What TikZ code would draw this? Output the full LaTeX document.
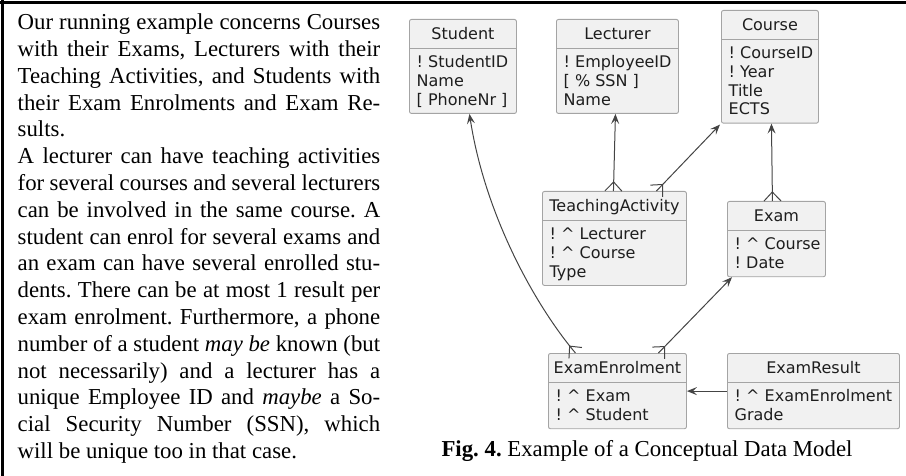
\documentclass[tikz,border=0pt]{standalone}
\usepackage{fontspec}
\setmainfont{Liberation Serif}
\newfontfamily\umlfont{DejaVu Sans}
\usetikzlibrary{arrows.meta,calc}
\frenchspacing

\definecolor{erfill}{HTML}{F1F1F1}
\definecolor{erborder}{HTML}{A4A4A4}
\definecolor{erlink}{HTML}{444444}
\definecolor{ertext}{HTML}{1E1E1E}

\tikzset{
  erframe/.style={draw=erborder, fill=erfill, rounded corners=2pt, line width=0.9pt, inner sep=0pt},
  erline/.style={draw=erborder, line width=0.9pt},
  ertitle/.style={font=\umlfont\fontsize{16}{18.7}\selectfont, text=ertext, inner sep=0pt},
  erbody/.style={font=\umlfont\fontsize{16}{18.7}\selectfont, text=ertext, inner sep=0pt},
  link/.style={draw=erlink, line width=1pt},
  tip/.style={-{Stealth[length=10pt,width=8pt,inset=4pt]}},
  frameline/.style={draw=black, line width=2.4pt},
}

% entity box: name, left, top, width, height, title, attribute lines
\newcommand\erbox[7]{%
  \node[erframe, minimum width=#4pt, minimum height=#5pt, anchor=north west] (#1) at (#2,#3) {};
  \draw[erline] ([yshift=-29.5pt]#1.north west) -- ([yshift=-29.5pt]#1.north east);
  \node[ertitle, anchor=base] (#1-title) at ([yshift=-20.3pt]#1.north) {#6};
  \node[erbody, anchor=base west] (#1-body) at ([xshift=7.5pt,yshift=-48.8pt]#1.north west)
    {\parbox[t]{200pt}{#7}};
}

% crow's foot at point #1, opening towards the box, line leaving towards #2
\newcommand\crowfoot[2]{%
  \draw[link] ($(#1)!9pt!(#2)$) -- ($(#1)!8.5pt!90:(#2)$);
  \draw[link] ($(#1)!9pt!(#2)$) -- ($(#1)!8.5pt!-90:(#2)$);
}

\begin{document}
\begin{tikzpicture}[x=1pt, y=-1pt]
\useasboundingbox (0,0) rectangle (906,476);

% page frame
\draw[frameline] (0,2.6) -- (906,2.6);
\draw[frameline] (2.6,0) -- (2.6,476);

% running text
\node[anchor=north west, inner sep=0pt, text width=362.5pt, align=justify,
      font=\fontsize{22.8}{26.8}\selectfont] (story) at (17.5,13.7)
{\tolerance=9999\emergencystretch=0pt
Our running example concerns Courses\linebreak
with their Exams, Lecturers with their\linebreak
Teaching Activities, and Students with\linebreak
their Exam Enrolments and Exam Re-\linebreak
sults.\par
A lecturer can have teaching activities\linebreak
for several courses and several lecturers\linebreak
can be involved in the same course. A\linebreak
student can enrol for several exams and\linebreak
an exam can have several enrolled stu-\linebreak
dents. There can be at most 1 result per\linebreak
exam enrolment. Furthermore, a phone\linebreak
number of a student \emph{may be} known (but\linebreak
not necessarily) and a lecturer has a\linebreak
unique Employee ID and \emph{maybe} a So-\linebreak
cial Security Number (SSN), which\linebreak
will be unique too in that case.\par};

% entities
\erbox{student}{409}{19}{107}{94}{Student}{! StudentID\\Name\\{[} PhoneNr ]}
\erbox{lecturer}{556}{19}{122}{94}{Lecturer}{! EmployeeID\\{[} \% SSN ]\\Name}
\erbox{course}{721}{10}{97}{112.7}{Course}{! CourseID\\! Year\\Title\\ECTS}
\erbox{teaching}{542}{191}{144}{94}{TeachingActivity}{! \textasciicircum\ Lecturer\\! \textasciicircum\ Course\\Type}
\erbox{exam}{727}{201}{98}{75.3}{Exam}{! \textasciicircum\ Course\\! Date}
\erbox{enrol}{548}{353}{138}{75.3}{ExamEnrolment}{! \textasciicircum\ Exam\\! \textasciicircum\ Student}
\erbox{result}{727}{353}{172}{75.3}{ExamResult}{! \textasciicircum\ ExamEnrolment\\Grade}

% connector end points
\coordinate (enrolStu) at ([xshift=-42pt]enrol.north);
\coordinate (stuIn) at ([xshift=6.5pt]student.south);
\coordinate (taLec) at ([xshift=-1pt]teaching.north);
\coordinate (lecIn) at ([xshift=-2pt]lecturer.south);
\coordinate (taCourse) at ([xshift=42pt]teaching.north);
\coordinate (courseInA) at ([xshift=-1pt,yshift=-1pt]course.south west);
\coordinate (examCourse) at ([xshift=-4pt]exam.north);
\coordinate (courseInB) at ([xshift=1.5pt]course.south);
\coordinate (enrolExam) at ([xshift=41pt]enrol.north);
\coordinate (examIn) at ([xshift=5pt]exam.south west);
\coordinate (bendA) at (535,305);
\coordinate (bendB) at (485,215);

% relationships
\draw[link, tip] (enrolStu) .. controls (bendA) and (bendB) .. (stuIn);
\crowfoot{enrolStu}{bendA}
\draw[link, tip] (taLec) -- (lecIn);
\crowfoot{taLec}{lecIn}
\draw[link, tip] (taCourse) -- (courseInA);
\crowfoot{taCourse}{courseInA}
\draw[link, tip] (examCourse) -- (courseInB);
\crowfoot{examCourse}{courseInB}
\draw[link, tip] (enrolExam) -- (examIn);
\crowfoot{enrolExam}{examIn}
\draw[link, tip] (result.west) -- (enrol.east);

% caption
\node[anchor=base, inner sep=0pt, font=\fontsize{22.8}{26.8}\selectfont] (caption) at (647,456.7)
  {\textbf{Fig. 4.} Example of a Conceptual Data Model};
\end{tikzpicture}
\end{document}
